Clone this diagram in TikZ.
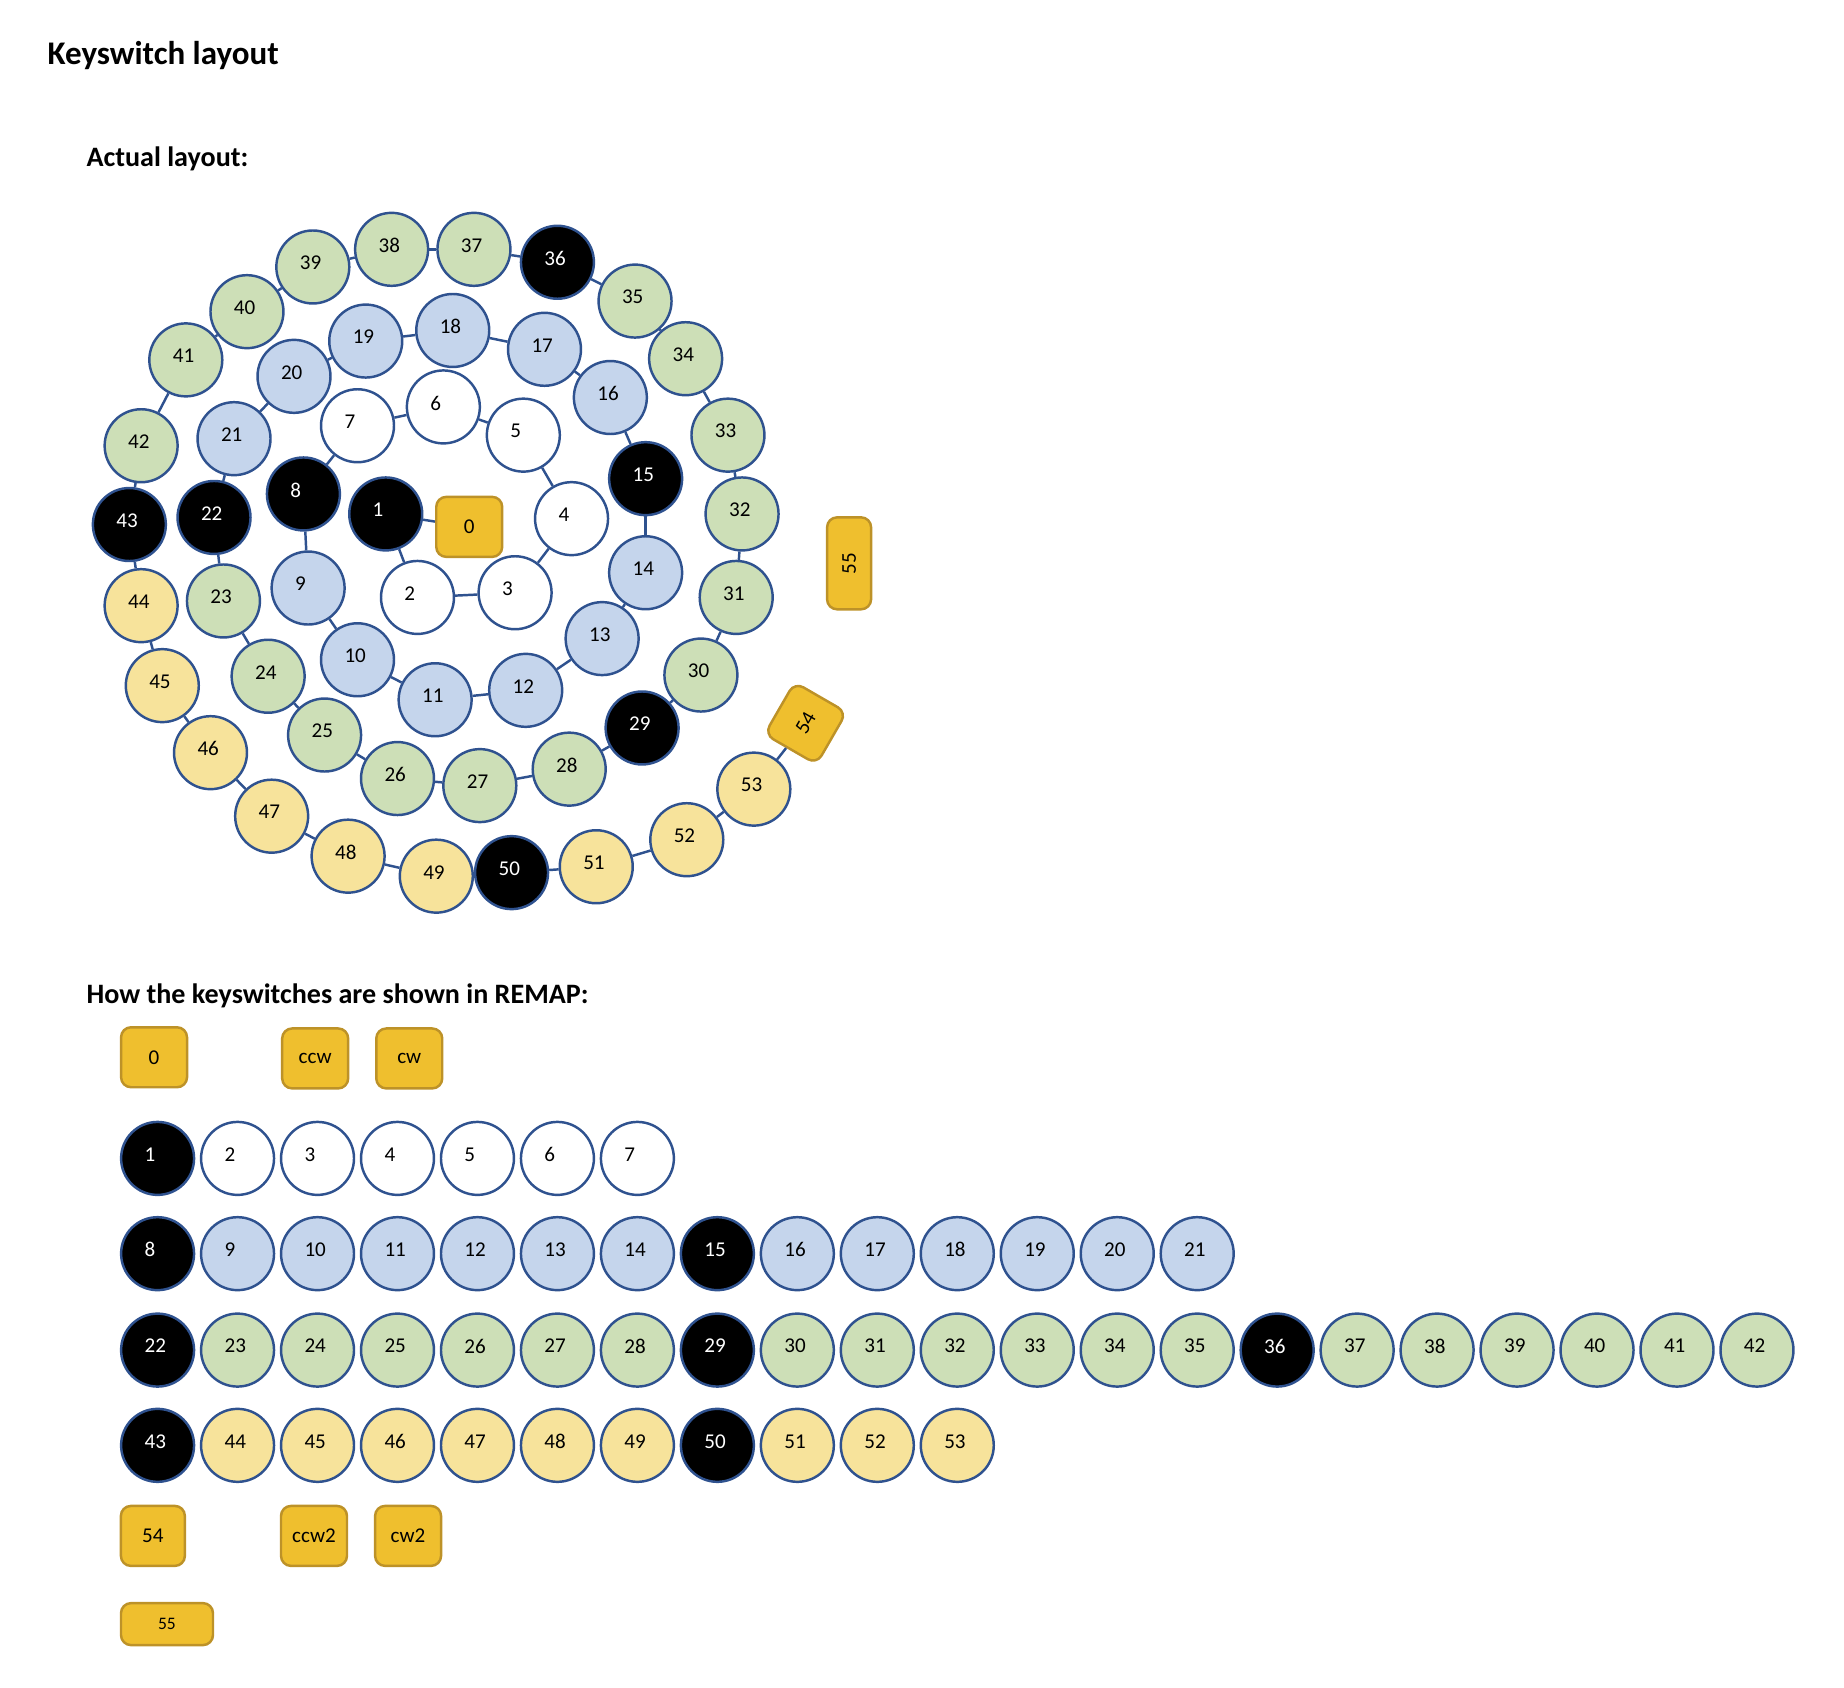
\documentclass[tikz,border=0pt]{standalone}
\usepackage{fontspec}
\setmainfont{Carlito}
\usetikzlibrary{shapes}

\definecolor{keyline}{HTML}{2F528F}
\definecolor{keyblue}{HTML}{C5D5EC}
\definecolor{keygreen}{HTML}{CDDFB7}
\definecolor{keyyellow}{HTML}{F7E39B}
\definecolor{keygold}{HTML}{EFBF2E}
\definecolor{keygoldline}{HTML}{BD9228}

\tikzset{
  key/.style={circle,draw=keyline,line width=0.7pt,minimum size=0.73cm,inner sep=0pt,
    text width=0.26cm,align=left,text depth=0.08cm,font=\fontsize{6}{7}\selectfont},
  wkey/.style={key,fill=white},
  bkey/.style={key,fill=black,text=white},
  blkey/.style={key,fill=keyblue},
  gkey/.style={key,fill=keygreen},
  ykey/.style={key,fill=keyyellow},
  goldkey/.style={rectangle,rounded corners=0.1cm,draw=keygoldline,fill=keygold,line width=0.7pt,inner sep=0pt,
    minimum width=0.66cm,minimum height=0.6cm,font=\fontsize{6}{7}\selectfont},
  title/.style={anchor=west,inner sep=0pt,font=\fontsize{9.4}{11}\selectfont\bfseries},
  subtitle/.style={anchor=west,inner sep=0pt,font=\fontsize{8}{10}\selectfont\bfseries},
  link/.style={draw=keyline,line width=0.7pt}
}

% colour of key n: black every 7th, then by ring
\newcommand{\keykind}[1]{%
  \pgfmathtruncatemacro\km{mod(#1,7)}%
  \ifnum\km=1 \def\kst{bkey}\else
  \ifnum#1<8 \def\kst{wkey}\else
  \ifnum#1<22 \def\kst{blkey}\else
  \ifnum#1<43 \def\kst{gkey}\else
  \def\kst{ykey}\fi\fi\fi\fi}

\begin{document}
\begin{tikzpicture}[x=0.01176cm,y=-0.01176cm]
  \useasboundingbox (0,0) rectangle (1568,1435);

  %titles
  \node[title] (ttl) at (40,47){Keyswitch layout};
  \node[subtitle] (ttlact) at (73,135){Actual layout:};
  \node[subtitle] (ttlremap) at (73,847){How the keyswitches are shown in REMAP:};

  %spiral
  \node[goldkey] (k0) at (399,448){0};
  \foreach \n/\x/\y in {1/328/437,2/355/508,3/438/504,4/486/441,5/445/370,6/377/346,7/304/362,
      8/258/420,9/262/500,10/304/561,11/370/595,12/447/587,13/512/543,14/549/487,
      15/549/407,16/519/338,17/463/297,18/385/281,19/311/290,20/250/320,21/199/373,
      22/182/440,23/190/511,24/228/575,25/276/625,26/338/662,27/408/668,28/484/654,
      29/546/619,30/596/574,31/626/508,32/631/437,33/619/370,34/583/305,35/540/256,
      36/474/223,37/403/212,38/333/212,39/266/227,40/210/265,41/158/306,42/120/379,
      43/110/446,44/120/515,45/138/583,46/179/640,47/231/694,48/296/728,49/371/745,
      50/435/742,51/507/737,52/584/714,53/641/671}{
    \keykind{\n}
    \node[\kst] (k\n) at (\x,\y){\n};
  }
  \node[goldkey,minimum size=0.6cm,rotate=60] (k54) at (685,615){54};
  \node[goldkey,minimum width=0.92cm,minimum height=0.44cm,rotate=90] (k55) at (722,479){55};

  %links along the spiral
  \foreach \i [evaluate=\i as \j using int(\i+1)] in {0,...,53}
    \draw[link] (k\i) -- (k\j);

  %remap rows
  \node[goldkey] (r0) at (131,899){0};
  \node[goldkey] (rccw) at (268,900){ccw};
  \node[goldkey] (rcw) at (348,900){cw};
  \foreach \n in {1,...,7}{
    \keykind{\n}
    \node[\kst] (r\n) at ({134+68*(\n-1)},985){\n};
  }
  \foreach \n in {8,...,21}{
    \keykind{\n}
    \node[\kst] (r\n) at ({134+68*(\n-8)},1066){\n};
  }
  \foreach \n in {22,...,42}{
    \keykind{\n}
    \node[\kst] (r\n) at ({134+68*(\n-22)},1148){\n};
  }
  \foreach \n in {43,...,53}{
    \keykind{\n}
    \node[\kst] (r\n) at ({134+68*(\n-43)},1229){\n};
  }
  \node[goldkey,minimum width=0.64cm] (r54) at (130,1306){54};
  \node[goldkey] (rccwb) at (267,1306){ccw2};
  \node[goldkey] (rcwb) at (347,1306){cw2};
  \node[goldkey,minimum width=0.92cm,minimum height=0.42cm,font=\fontsize{5}{6}\selectfont] (r55) at (142,1381){55};

\end{tikzpicture}
\end{document}
